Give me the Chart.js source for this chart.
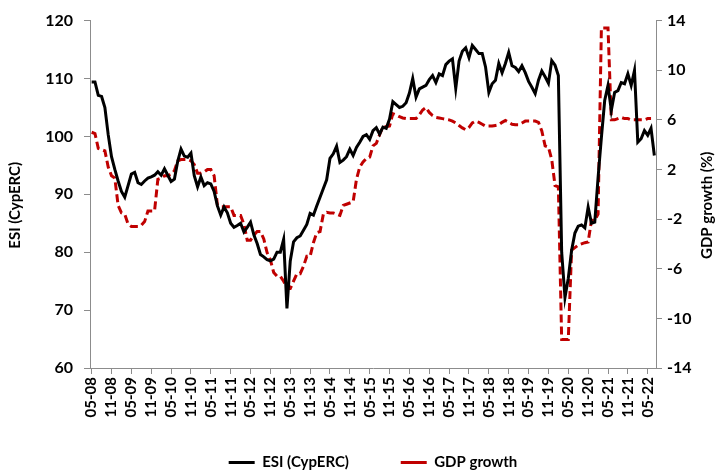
<!DOCTYPE html>
<html>
<head>
<meta charset="utf-8">
<script src="https://cdn.jsdelivr.net/npm/chart.js@4.4.1/dist/chart.umd.min.js"></script>
<style>
  html, body { margin: 0; padding: 0; background: #fff; }
  #wrap { width: 721px; height: 473px; }
</style>
</head>
<body>
<div id="wrap"><canvas id="esiChart" width="721" height="473"></canvas></div>
<script>
// Monthly observations, May 2008 to July 2022
const startYear = 2008;
const startMonth = 5;
const monthCount = 171;

// ESI (CypERC), left axis
const esi = [
  109.4, 109.4, 107.1, 106.9, 105.0, 100.3, 96.5, 94.3,                      // 2008 (May-Dec)
  92.3, 90.5, 89.5, 91.5, 93.5, 93.8, 92.0, 91.7, 92.3, 92.8, 93.0, 93.3,    // 2009
  93.9, 93.3, 94.4, 93.3, 92.2, 92.6, 95.7, 97.8, 96.6, 96.4, 97.1, 93.2,    // 2010
  91.3, 93.0, 91.5, 92.0, 91.8, 90.5, 88.0, 86.4, 87.8, 86.8, 85.0, 84.3,    // 2011
  84.6, 85.0, 83.5, 84.3, 85.2, 83.0, 81.5, 79.6, 79.2, 78.7, 78.5, 78.8,    // 2012
  80.0, 80.0, 82.2, 70.3, 78.5, 81.8, 82.5, 82.8, 83.8, 84.8, 86.7, 86.4,    // 2013
  88.0, 89.5, 91.0, 92.5, 96.2, 97.0, 98.3, 95.5, 95.9, 96.5, 97.8, 96.7,    // 2014
  98.1, 99.0, 100.0, 100.3, 99.5, 101.0, 101.5, 100.4, 101.6, 101.4, 103.0, 106.0, // 2015
  105.5, 105.0, 105.2, 105.8, 107.5, 110.0, 106.8, 108.2, 108.5, 108.8, 109.8, 110.5, // 2016
  109.3, 110.8, 110.5, 112.4, 113.0, 113.4, 108.3, 113.0, 114.7, 115.3, 113.6, 115.7, // 2017
  115.0, 114.3, 114.3, 112.0, 107.6, 109.1, 109.7, 112.6, 111.0, 112.6, 114.5, 112.2, // 2018
  111.9, 111.2, 112.2, 111.0, 109.5, 108.5, 107.4, 109.7, 111.3, 110.3, 109.2, 113.1, // 2019
  112.3, 110.5, 80.0, 72.2, 75.5, 80.3, 83.3, 84.5, 84.7, 84.2, 87.8, 85.0,  // 2020
  85.2, 92.9, 99.8, 106.2, 108.8, 104.5, 107.6, 107.9, 109.3, 109.1, 110.8, 108.8, // 2021
  111.4, 99.0, 99.6, 101.0, 100.2, 101.4, 96.7                               // 2022 (Jan-Jul)
];

// GDP growth (%), right axis
const gdpGrowth = [
  5.0, 4.9, 3.7, 3.6, 3.5, 2.2, 1.5, 1.3,                                    // 2008
  -0.9, -1.5, -1.6, -2.4, -2.6, -2.6, -2.6, -2.5, -2.2, -1.35, -1.35, -1.35, // 2009
  1.2, 1.3, 1.5, 1.5, 1.6, 1.9, 2.7, 2.8, 2.8, 2.8, 2.7, 2.4,                // 2010
  1.7, 1.7, 1.8, 2.0, 2.0, 1.5, -0.9, -1.0, -1.0, -1.0, -1.0, -1.7,          // 2011
  -1.7, -1.7, -2.4, -3.7, -3.7, -3.3, -3.0, -3.0, -3.6, -4.7, -5.3, -6.3,    // 2012
  -6.6, -6.6, -7.0, -7.6, -7.6, -7.0, -6.4, -6.4, -5.8, -5.0, -5.0, -3.9,    // 2013
  -3.1, -3.0, -1.6, -1.45, -1.5, -1.5, -1.6, -1.7, -0.9, -0.8, -0.7, -0.6,   // 2014
  1.2, 2.2, 2.6, 2.9, 3.0, 3.9, 4.1, 4.8, 5.45, 5.45, 5.5, 6.5,              // 2015
  6.4, 6.25, 6.15, 6.1, 6.1, 6.1, 6.1, 6.4, 6.8, 7.0, 6.6, 6.35,             // 2016
  6.2, 6.15, 6.1, 6.05, 6.0, 5.9, 5.75, 5.55, 5.35, 5.2, 5.4, 5.75,          // 2017
  5.9, 5.8, 5.65, 5.5, 5.5, 5.5, 5.55, 5.6, 5.8, 5.95, 5.8, 5.65,            // 2018
  5.6, 5.6, 5.75, 5.9, 5.9, 5.9, 5.9, 5.8, 5.1, 3.9, 3.8, 2.8,               // 2019
  0.7, 0.6, -11.7, -11.7, -11.7, -4.5, -4.3, -4.1, -4.0, -3.9, -3.85, -2.1,  // 2020
  -2.1, -1.6, 13.4, 13.4, 13.4, 6.0, 6.0, 6.1, 6.2, 6.1, 6.1, 6.0,           // 2021
  6.0, 6.0, 6.0, 6.0, 6.1, 6.1, null                                         // 2022
];

// Axis ticks
const esiTicks = [60, 70, 80, 90, 100, 110, 120];
const gdpTicks = [-14, -10, -6, -2, 2, 6, 10, 14];
const labelEvery = 6;

// Category labels "MM-YY"
const labels = [];
for (let i = 0; i < monthCount; i++) {
    const m = (startMonth - 1 + i) % 12 + 1;
    const y = startYear + Math.floor((startMonth - 1 + i) / 12);
    labels.push(String(m).padStart(2, '0') + '-' + String(y % 100).padStart(2, '0'));
}

const axisGrey = '#8c8c8c';
const fontFamily = 'Lato, "Open Sans", sans-serif';
Chart.defaults.font.family = fontFamily;
Chart.defaults.color = '#000';

// Both axis titles read bottom-to-top, as in the spreadsheet original
const axisTitles = {
    id: 'axisTitles',
    afterDraw(chart) {
        const c = chart.ctx;
        const midY = chart.chartArea.top + (chart.chartArea.bottom - chart.chartArea.top) / 2 + 11;
        const draw = (text, x) => {
            c.save();
            c.translate(x, midY);
            c.rotate(-Math.PI / 2);
            c.textAlign = 'center';
            c.textBaseline = 'middle';
            c.fillStyle = '#000';
            c.font = 'bold 15px ' + fontFamily;
            c.fillText(text, 0, 0);
            c.restore();
        };
        draw('ESI (CypERC)', 15);
        draw('GDP growth (%)', 707);
    }
};

const ctx = document.getElementById('esiChart').getContext('2d');

new Chart(ctx, {
    type: 'line',
    data: {
        labels: labels,
        datasets: [{
            label: 'ESI (CypERC)',
            data: esi,
            yAxisID: 'y',
            borderColor: '#000000',
            backgroundColor: '#000000',
            borderWidth: 3,
            pointRadius: 0,
            tension: 0
        }, {
            label: 'GDP growth',
            data: gdpGrowth,
            yAxisID: 'y1',
            borderColor: '#c00000',
            backgroundColor: '#c00000',
            borderWidth: 3,
            borderDash: [8, 4],
            pointRadius: 0,
            tension: 0,
            spanGaps: false
        }]
    },
    options: {
        responsive: false,
        animation: false,
        layout: { padding: { top: 20, left: 0, right: 0, bottom: -7 } },
        plugins: {
            tooltip: { enabled: false },
            legend: {
                position: 'bottom',
                fullSize: false,
                labels: {
                    usePointStyle: true,
                    pointStyle: 'line',
                    pointStyleWidth: 26,
                    padding: 8,
                    color: '#000',
                    font: { size: 15, weight: 'bold' },
                    // wider gap between the two entries, like the original
                    generateLabels: (chart) => {
                        const items = Chart.defaults.plugins.legend.labels.generateLabels(chart);
                        items[0].text = items[0].text + '            ';
                        return items;
                    }
                }
            }
        },
        scales: {
            x: {
                type: 'category',
                offset: true,
                afterFit: (s) => { s.height = 79; },
                border: { color: axisGrey, width: 1 },
                grid: {
                    drawOnChartArea: false,
                    tickLength: 6,
                    color: (c) => (c.index % labelEvery === 0 ? axisGrey : 'rgba(0,0,0,0)')
                },
                ticks: {
                    autoSkip: false,
                    maxRotation: 90,
                    minRotation: 90,
                    padding: 3,
                    color: '#000',
                    font: { size: 15, weight: 'bold' },
                    callback: function (value, index) {
                        return index % labelEvery === 0 ? labels[index] : '';
                    }
                }
            },
            y: {
                position: 'left',
                min: esiTicks[0],
                max: esiTicks[esiTicks.length - 1],
                afterFit: (s) => { s.width = 90; },
                afterBuildTicks: (s) => { s.ticks = esiTicks.map(v => ({ value: v })); },
                border: { color: axisGrey, width: 1 },
                grid: { drawOnChartArea: false, tickLength: 6, color: axisGrey },
                ticks: {
                    padding: 11,
                    color: '#000',
                    font: { size: 16, weight: 'bold' }
                }
            },
            y1: {
                position: 'right',
                min: gdpTicks[0],
                max: gdpTicks[gdpTicks.length - 1],
                afterFit: (s) => { s.width = 65; },
                afterBuildTicks: (s) => { s.ticks = gdpTicks.map(v => ({ value: v })); },
                border: { color: axisGrey, width: 1 },
                grid: { drawOnChartArea: false, tickLength: 6, color: axisGrey },
                ticks: {
                    padding: 5,
                    color: '#000',
                    font: { size: 16, weight: 'bold' }
                }
            }
        }
    },
    plugins: [axisTitles]
});
</script>
</body>
</html>
